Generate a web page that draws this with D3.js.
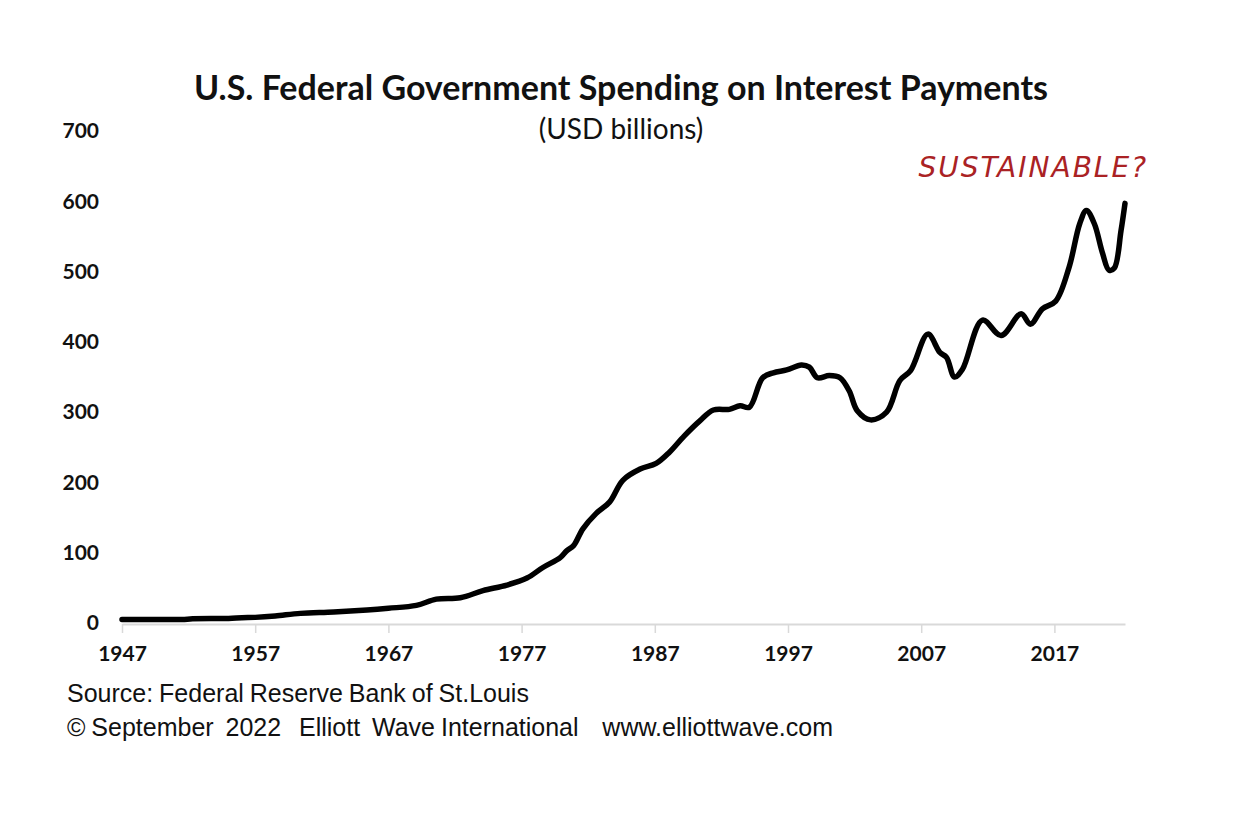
<!DOCTYPE html>
<html>
<head>
<meta charset="utf-8">
<script src="https://cdn.jsdelivr.net/npm/d3@7"></script>
<style>
  html, body { margin: 0; padding: 0; background: #fff; }
  svg { display: block; }
</style>
</head>
<body>
<svg id="chart" width="1242" height="819"></svg>
<script>
// ---- Data ----
const titleText = "U.S. Federal Government Spending on Interest Payments";
const subtitleText = "(USD billions)";
const annotationText = "SUSTAINABLE?";
const sourceLines = [
  "Source: Federal Reserve Bank of St.Louis",
  "© September  2022   Elliott  Wave International    www.elliottwave.com"
];
const yTicks = [0, 100, 200, 300, 400, 500, 600, 700];
const xTicks = [1947, 1957, 1967, 1977, 1987, 1997, 2007, 2017];

const years = [
  1947.0, 1949.0, 1951.5, 1952.3, 1955.0, 1956.0, 1957.0, 1958.5, 1960.4, 1962.9,
  1965.4, 1967.0, 1969.1, 1970.6, 1972.4, 1974.1, 1975.9, 1977.4, 1978.6, 1979.9,
  1980.4, 1980.9, 1981.6, 1982.6, 1983.6, 1984.6, 1985.9, 1987.1, 1988.1, 1989.2,
  1990.4, 1991.4, 1992.6, 1993.4, 1994.1, 1995.1, 1995.9, 1996.9, 1998.0, 1998.6,
  1999.2, 2000.1, 2000.9, 2001.6, 2002.2, 2003.2, 2004.4, 2005.4, 2006.2, 2007.5,
  2008.4, 2008.9, 2009.5, 2010.1, 2011.6, 2013.0, 2014.5, 2015.2, 2016.1, 2017.1,
  2018.1, 2018.9, 2019.4, 2020.0, 2020.6, 2021.1, 2021.5, 2022.0, 2022.3
];
const values = [
  5, 5, 5, 6, 6.5, 7.5, 8, 10, 13.7, 15.6,
  18.5, 21, 25, 34, 36, 46, 54, 64, 79, 93,
  103, 110, 134, 156, 172, 203, 219, 227, 243, 266,
  288, 303, 304, 309, 307, 349, 356, 360, 367, 364,
  349, 352, 349, 330, 302, 289, 300, 345, 359, 411,
  385, 378, 350, 361, 431, 409, 440, 425, 447, 458,
  506, 568, 587, 568, 527, 502, 505, 558, 597
];

// ---- Layout ----
const svg = d3.select("#chart");
const x = d3.scaleLinear().domain([1947, 2022.3]).range([122, 1125]);
const y = d3.scaleLinear().domain([0, 700]).range([623, 131]);

// Title / subtitle
svg.append("text")
  .attr("x", 621).attr("y", 100)
  .attr("text-anchor", "middle")
  .style("font-family", "Lato, 'Open Sans', sans-serif")
  .style("font-weight", "bold")
  .style("font-size", "34px")
  .attr("fill", "#111")
  .text(titleText);

svg.append("text")
  .attr("x", 621).attr("y", 139)
  .attr("text-anchor", "middle")
  .style("font-family", "Lato, 'Open Sans', sans-serif")
  .style("font-size", "28px")
  .attr("fill", "#111")
  .text(subtitleText);

// Annotation
svg.append("text")
  .attr("x", 1148).attr("y", 177)
  .attr("text-anchor", "end")
  .style("font-family", "'DejaVu Sans', sans-serif")
  .style("font-style", "italic")
  .style("font-size", "28px")
  .style("letter-spacing", "2px")
  .attr("fill", "#aa2224")
  .text(annotationText);

// Y axis labels (no axis line)
const yAxis = d3.axisLeft(y).tickValues(yTicks).tickSize(0).tickPadding(0);
const gy = svg.append("g").attr("transform", "translate(99,0)").call(yAxis);
gy.select(".domain").remove();
gy.selectAll("text")
  .style("font-family", "Lato, 'Open Sans', sans-serif")
  .style("font-weight", "bold")
  .style("font-size", "21px")
  .attr("fill", "#111");

// X axis
const xAxis = d3.axisBottom(x).tickValues(xTicks).tickFormat(d3.format("d")).tickSize(9).tickPadding(13).tickSizeOuter(0);
const gx = svg.append("g").attr("transform", "translate(0,624)").call(xAxis);
gx.select(".domain").attr("stroke", "#d9d9d9").attr("stroke-width", 2);
gx.selectAll(".tick line").attr("stroke", "#d9d9d9").attr("stroke-width", 1.5);
gx.selectAll("text")
  .style("font-family", "Lato, 'Open Sans', sans-serif")
  .style("font-weight", "bold")
  .style("font-size", "21px")
  .attr("fill", "#111");

// Line
const data = years.map((yr, i) => ({ yr, v: values[i] }));
const line = d3.line()
  .x(d => x(d.yr))
  .y(d => y(d.v))
  .curve(d3.curveCatmullRom.alpha(0.5));
svg.append("path")
  .datum(data)
  .attr("d", line)
  .attr("fill", "none")
  .attr("stroke", "#000")
  .attr("stroke-width", 5.5)
  .attr("stroke-linejoin", "round")
  .attr("stroke-linecap", "round");

// Footer
svg.selectAll("text.src")
  .data(sourceLines)
  .enter().append("text")
  .attr("class", "src")
  .attr("x", 67)
  .attr("y", (d, i) => 702 + i * 34)
  .attr("xml:space", "preserve")
  .style("white-space", "pre")
  .style("font-family", "'Liberation Sans', Arial, sans-serif")
  .style("font-size", "25px")
  .style("word-spacing", "-1px")
  .attr("fill", "#111")
  .text(d => d);
</script>
</body>
</html>
